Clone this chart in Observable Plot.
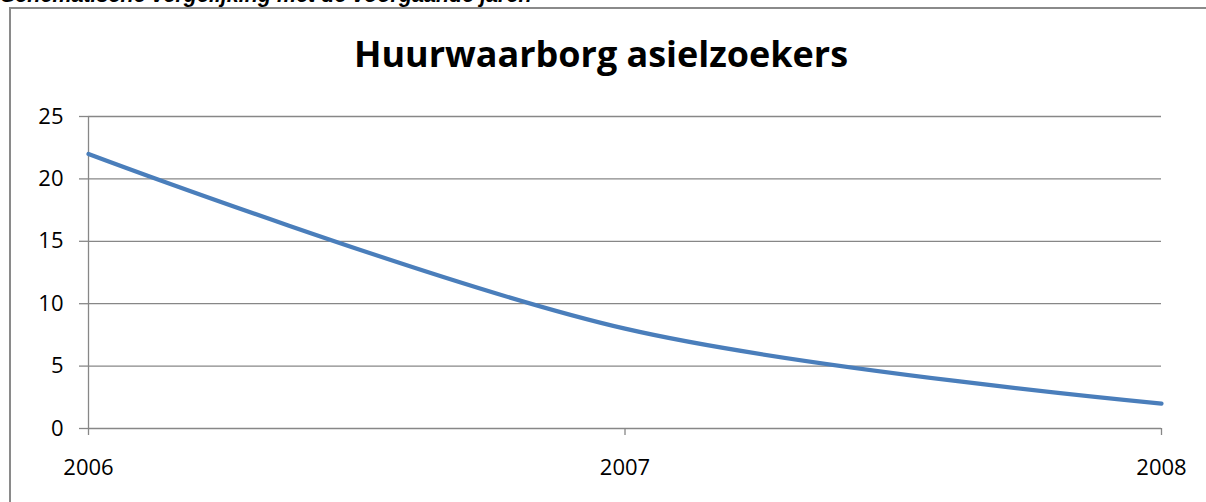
<!DOCTYPE html>
<html>
<head>
<meta charset="utf-8">
<script src="https://cdn.jsdelivr.net/npm/d3@7"></script>
<script src="https://cdn.jsdelivr.net/npm/@observablehq/plot@0.6"></script>
<style>
  html, body { margin: 0; padding: 0; background: #fff; }
  #wrap { position: relative; width: 1206px; height: 502px; overflow: hidden; }
  #header { position: absolute; left: 1px; top: -17px; font: italic bold 21.5px "Liberation Sans", Arial, sans-serif; line-height: 25px; color: #000; white-space: nowrap; }
  #frame { position: absolute; left: 9px; top: 7px; width: 1300px; height: 600px; border: 2px solid #8a8a8a; box-sizing: border-box; }
  #title { position: absolute; left: 0; top: 0; font: bold 35px "Open Sans", sans-serif; line-height: 35px; color: #000; white-space: nowrap; transform-origin: 0 0; }
  #chart { position: absolute; left: 0; top: 0; }
</style>
</head>
<body>
<div id="wrap">
  <div id="header"></div>
  <div id="frame"></div>
  <div id="title"></div>
  <div id="chart"></div>
</div>
<script>
const headerText = "Schematische vergelijking met de voorgaande jaren";
const titleText = "Huurwaarborg asielzoekers";
const years = [2006, 2007, 2008];
const values = [22, 8, 2];
const yTicks = [0, 5, 10, 15, 20, 25];

document.getElementById("header").textContent = headerText;

// Title: fit to the reference's width and position
const titleEl = document.getElementById("title");
titleEl.textContent = titleText;
const titleLeft = 354, titleRight = 848, capTop = 42;
const w = titleEl.getBoundingClientRect().width;
const sx = (titleRight - titleLeft) / w;
// with line-height 35px, cap top sits approx at (35 - 35*1.362)/2 + (1.069 - 0.714)*35
const capOffset = (35 - 35 * 1.362) / 2 + (1.069 - 0.714) * 35;
titleEl.style.left = titleLeft + "px";
titleEl.style.top = (capTop - capOffset) + "px";
titleEl.style.transform = `scaleX(${sx})`;

const data = years.map((y, i) => ({year: y, value: values[i]}));

const plot = Plot.plot({
  width: 1206,
  height: 502,
  marginLeft: 88,
  marginRight: 45,
  marginTop: 116,
  marginBottom: 74,
  style: {background: "transparent", fontFamily: "'Open Sans', sans-serif", fontSize: "22px", color: "#000"},
  x: {domain: [2006, 2008], label: null},
  y: {domain: [0, 25], label: null},
  marks: [
    Plot.ruleY(yTicks, {stroke: "#878787", strokeWidth: 1.3, strokeOpacity: 1}),
    Plot.ruleX([2006], {stroke: "#878787", strokeWidth: 1.3, strokeOpacity: 1}),
    Plot.axisY({ticks: yTicks, tickSize: 9, tickPadding: 16, stroke: "#878787", strokeWidth: 1.3, strokeOpacity: 1, fontSize: 22, fill: "#000", label: null}),
    Plot.axisX({ticks: years, tickSize: 7, tickPadding: 24, stroke: "#878787", strokeWidth: 1.3, strokeOpacity: 1, fontSize: 22, fill: "#000", tickFormat: d => String(d), label: null}),
    Plot.line(data, {x: "year", y: "value", curve: "catmull-rom", stroke: "#4a7ebb", strokeWidth: 4.2})
  ]
});
document.getElementById("chart").appendChild(plot);
</script>
</body>
</html>
